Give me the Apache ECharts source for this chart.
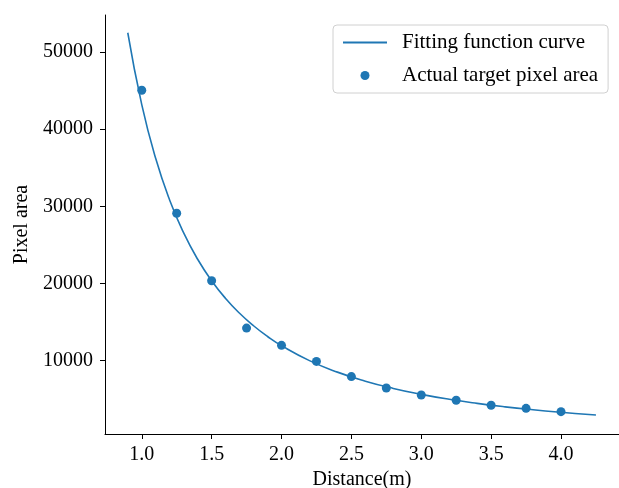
<!DOCTYPE html>
<html>
<head>
	<meta charset="utf-8">
	<script src="https://cdn.jsdelivr.net/npm/echarts@6/dist/echarts.min.js"></script>
	<title>Pixel area</title>
</head>
<body>
<style>
	html, body, #main {
		width: 619px;
		height: 488px;
		margin: 0;
	}
</style>
<div id="main"></div>
<script type="text/javascript">
    // 拟合曲线
    var curveX = [0.9, 1.0, 1.1, 1.2, 1.3, 1.4, 1.5, 1.6, 1.7, 1.8, 1.9, 2.0, 2.2, 2.4, 2.6, 2.8, 3.0, 3.2, 3.4, 3.6, 3.8, 4.0, 4.2, 4.25];
    var curveY = [52500, 43190, 36190, 30800, 26550, 23140, 20360, 18060, 16140, 14520, 13130, 11940, 10000, 8510, 7340, 6400, 5630, 4990, 4460, 4010, 3630, 3300, 3010, 2950];
    // 实际像素面积散点
    var pointX = [1.0, 1.25, 1.5, 1.75, 2.0, 2.25, 2.5, 2.75, 3.0, 3.25, 3.5, 3.75, 4.0];
    var pointY = [45050, 29100, 20350, 14220, 11980, 9900, 7930, 6450, 5540, 4860, 4210, 3820, 3390];
    var xTicks = [1.0, 1.5, 2.0, 2.5, 3.0, 3.5, 4.0];
    var yTicks = [10000, 20000, 30000, 40000, 50000];

    var font = 'Liberation Serif';
    var blue = '#1f77b4';

    var myChart = echarts.init(document.getElementById('main'));

    var axisCommon = {
        type: 'value',
        nameLocation: 'middle',
        nameTextStyle: { fontFamily: font, fontSize: 20, color: '#000' },
        splitLine: { show: false },
        axisLine: { show: true, onZero: false, lineStyle: { color: '#000', width: 1 } },
        axisTick: { show: true, inside: false, length: 5, lineStyle: { color: '#000' } },
        axisLabel: { fontFamily: font, fontSize: 20, color: '#000' }
    };

    var option = {
        animation: false,
        grid: { left: 105, right: 0, top: 15, bottom: 54, containLabel: false, outerBoundsMode: 'none' },
        legend: {
            orient: 'vertical',
            left: 333,
            top: 25,
            padding: [7, 10, 7, 9],
            itemWidth: 44,
            itemHeight: 9,
            itemGap: 12,
            borderColor: '#d0d0d0',
            borderWidth: 1,
            borderRadius: 4,
            backgroundColor: '#fff',
            textStyle: { fontFamily: font, fontSize: 21, color: '#000', padding: [0, 0, 0, 10] },
            data: [
                { name: 'Fitting function curve', itemStyle: { opacity: 0 } },
                'Actual target pixel area'
            ]
        },
        xAxis: Object.assign({}, axisCommon, {
            name: 'Distance(m)',
            nameGap: 35,
            min: 0.737,
            max: 4.415,
            axisTick: Object.assign({}, axisCommon.axisTick, { customValues: xTicks }),
            axisLabel: Object.assign({}, axisCommon.axisLabel, {
                margin: 11,
                customValues: xTicks,
                formatter: function (v) { return v.toFixed(1); }
            })
        }),
        yAxis: Object.assign({}, axisCommon, {
            name: 'Pixel area',
            nameGap: 58,
            min: 490,
            max: 54800,
            axisTick: Object.assign({}, axisCommon.axisTick, { customValues: yTicks }),
            axisLabel: Object.assign({}, axisCommon.axisLabel, {
                margin: 12,
                customValues: yTicks,
                formatter: function (v) { return String(v); }
            })
        }),
        series: [{
            name: 'Fitting function curve',
            type: 'line',
            smooth: true,
            symbol: 'none',
            lineStyle: { color: blue, width: 1.6 },
            itemStyle: { color: blue },
            data: curveX.map(function (x, i) { return [x, curveY[i]]; })
        }, {
            name: 'Actual target pixel area',
            type: 'scatter',
            symbolSize: 9,
            itemStyle: { color: blue, opacity: 1 },
            data: pointX.map(function (x, i) { return [x, pointY[i]]; })
        }]
    };

    myChart.setOption(option);
</script>
</body>
</html>
